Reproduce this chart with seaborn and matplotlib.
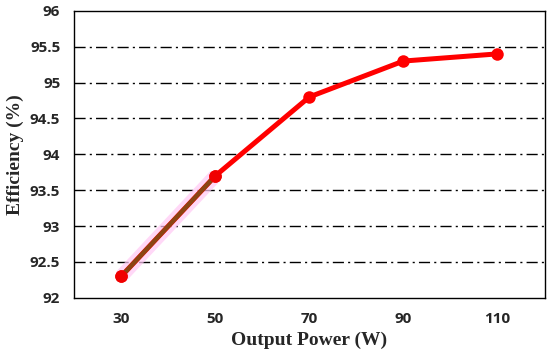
import matplotlib
matplotlib.use('Agg')
import matplotlib.pyplot as plt
import seaborn as sns
import pandas as pd

# data
power = [30, 50, 70, 90, 110]
efficiency = [92.3, 93.7, 94.8, 95.3, 95.4]
y_ticks = [92, 92.5, 93, 93.5, 94, 94.5, 95, 95.5, 96]
y_tick_labels = ['92', '92.5', '93', '93.5', '94', '94.5', '95', '95.5', '96']

df = pd.DataFrame({'power': power, 'efficiency': efficiency})

sns.set_style('white')
fig, ax = plt.subplots(figsize=(5.5, 3.61), dpi=100)
fig.subplots_adjust(left=0.135, right=0.99, top=0.97, bottom=0.175)

# grid first so the line sits above it
for y in y_ticks[1:-1]:
    ax.axhline(y, color='black', lw=1.0, ls=(0, (8, 3, 1.5, 3)), zorder=1)

sns.lineplot(data=df, x='power', y='efficiency', ax=ax, color='#ff0000',
             lw=3.6, marker='o', markersize=9, markeredgewidth=0, zorder=3)
# first segment looks highlighted / brownish in the source
first = df.iloc[:2]
ax.plot(first['power'], first['efficiency'], color='#ffc8f4', lw=10, alpha=0.7,
        solid_capstyle='butt', zorder=2)
ax.plot(first['power'], first['efficiency'], color='#8b4513', lw=3.2, zorder=4)
ax.plot(first['power'], first['efficiency'], 'o', color='#f00000',
        markersize=9, markeredgewidth=0, zorder=5)

ax.set_xlim(20, 120)
ax.set_ylim(92, 96)
ax.set_xticks(power)
ax.set_yticks(y_ticks)
ax.set_yticklabels(y_tick_labels)
ax.tick_params(length=0, pad=10)
for lab in ax.get_xticklabels() + ax.get_yticklabels():
    lab.set_fontfamily('Open Sans')
    lab.set_fontweight('bold')
    lab.set_fontsize(11)

ax.set_xlabel('Output Power (W)', fontfamily='Liberation Serif', fontweight='bold',
              fontsize=14, labelpad=4)
ax.set_ylabel('Efficiency (%)', fontfamily='Liberation Serif', fontweight='bold',
              fontsize=14, labelpad=4)

for s in ax.spines.values():
    s.set_color('black')
    s.set_linewidth(1.0)

fig.savefig('out.png', dpi=100)
